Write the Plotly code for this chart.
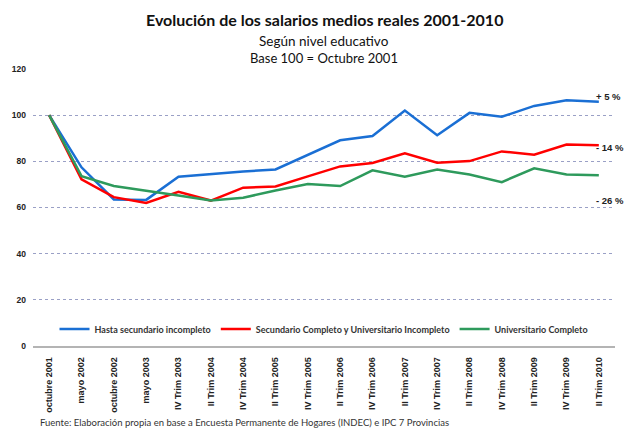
import plotly.graph_objects as go

categories = ["octubre 2001", "mayo 2002", "octubre 2002", "mayo 2003", "IV Trim 2003",
              "II Trim 2004", "IV Trim 2004", "II Trim 2005", "IV Trim 2005", "II Trim 2006",
              "IV Trim 2006", "II Trim 2007", "IV Trim 2007", "II Trim 2008", "IV Trim 2008",
              "II Trim 2009", "IV Trim 2009", "II Trim 2010"]

hasta_secundario = [100, 77.4, 63.5, 63.3, 73.3, 74.6, 75.6, 76.5, 82.8, 89.1,
                    91.0, 102.0, 91.3, 101.0, 99.3, 104.0, 106.5, 105.8]
secundario_completo = [100, 72.2, 64.5, 62.0, 66.8, 63.0, 68.6, 69.1, 73.5, 77.8,
                       79.3, 83.5, 79.4, 80.1, 84.3, 82.9, 87.3, 87.0]
universitario = [100, 73.6, 69.3, 67.4, 65.2, 63.0, 64.2, 67.4, 70.2, 69.3,
                 76.1, 73.3, 76.5, 74.3, 71.0, 77.0, 74.3, 74.0]

series_names = ["Hasta secundario incompleto",
                "Secundario Completo y Universitario Incompleto",
                "Universitario Completo"]
series_values = [hasta_secundario, secundario_completo, universitario]
series_colors = ["#1a6fd4", "#ff0000", "#2e9a5c"]

end_labels = ["+ 5 %", "- 14 %", "- 26 %"]
end_label_y = [108.2, 86.0, 63.0]

W, H = 640, 433
L, R, T, B = 24, 25, 69, 87
PW, PH = W - L - R, H - T - B


def px_x(x):
    return (x - L) / PW


def px_y(y):
    return (H - B - y) / PH


fig = go.Figure()
for name, vals, col in zip(series_names, series_values, series_colors):
    fig.add_trace(go.Scatter(x=categories, y=vals, name=name, mode="lines",
                             line=dict(color=col, width=2.5)))

for txt, yv in zip(end_labels, end_label_y):
    fig.add_annotation(x=categories[-1], y=yv, text="<b>" + txt + "</b>", showarrow=False,
                       xanchor="left", xshift=-5,
                       font=dict(family="Liberation Sans", size=9.5, color="#222222"))

fig.update_layout(
    width=W, height=H,
    margin=dict(l=L, r=R, t=T, b=B),
    paper_bgcolor="white", plot_bgcolor="white",
    font=dict(family="Liberation Sans"),
    legend=dict(orientation="h", x=0.5, xanchor="center", y=px_y(329), yanchor="middle",
                font=dict(family="Lato", size=9, color="#333333", weight="bold"),
                bgcolor="rgba(0,0,0,0)", itemwidth=30, tracegroupgap=0),
    showlegend=True,
)

fig.add_annotation(xref="paper", yref="paper", x=px_x(320), y=px_y(20),
                   text="<b>Evolución de los salarios medios reales 2001-2010</b>",
                   showarrow=False, xanchor="center", yanchor="middle",
                   font=dict(family="Lato", size=16, color="#111111"))
fig.add_annotation(xref="paper", yref="paper", x=px_x(320), y=px_y(41),
                   text="Según nivel educativo", showarrow=False, xanchor="center",
                   yanchor="middle", font=dict(family="Lato", size=13.5, color="#111111"))
fig.add_annotation(xref="paper", yref="paper", x=px_x(320), y=px_y(58),
                   text="Base 100 = Octubre 2001", showarrow=False, xanchor="center",
                   yanchor="middle", font=dict(family="Lato", size=13, color="#111111"))
fig.add_annotation(xref="paper", yref="paper", x=px_x(29), y=px_y(422),
                   text="Fuente: Elaboración propia en base a Encuesta Permanente de Hogares (INDEC) e IPC 7 Provincias",
                   showarrow=False, xanchor="left", yanchor="middle",
                   font=dict(family="Lato", size=9.5, color="#333333"))

fig.update_xaxes(
    type="category", tickangle=-90, range=[-0.5, len(categories) - 0.5],
    tickfont=dict(family="Liberation Sans", size=9, color="#222222", weight="bold"),
    showgrid=False, showline=True, linecolor="#b4b4b4", linewidth=1.5,
    ticks="", ticklabelstandoff=6,
)
fig.update_yaxes(
    range=[0, 120], dtick=20, showgrid=True, gridcolor="#9aa0c6", griddash="dot",
    gridwidth=1, zeroline=False, showline=False, ticks="",
    tickfont=dict(family="Liberation Sans", size=8.5, color="#222222", weight="bold"),
    ticklabelstandoff=6,
)

fig.write_html("out.html", config={"displayModeBar": False},
               post_script="document.body.style.margin='0';document.body.style.padding='0';")
